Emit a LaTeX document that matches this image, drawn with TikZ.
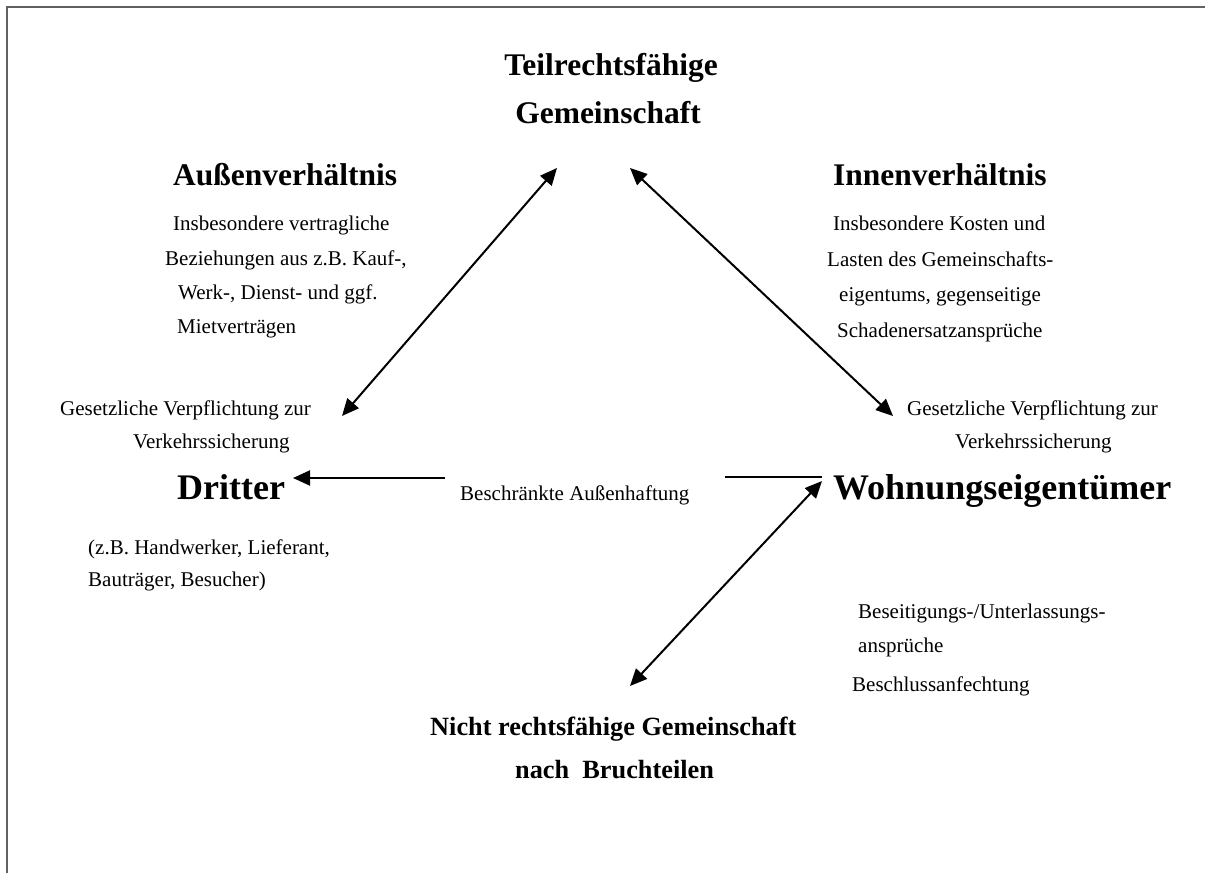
\documentclass[tikz,border=0pt]{standalone}
\usepackage{fontspec}
\setmainfont{Liberation Serif}
\usetikzlibrary{arrows.meta}
\begin{document}
\begin{tikzpicture}[x=1pt,y=-1pt,
  body/.style={inner sep=0pt,anchor=base west,font=\fontsize{21}{25}\selectfont},
  head/.style={inner sep=0pt,anchor=base west,font=\fontsize{31.5}{36}\selectfont\bfseries},
  party/.style={inner sep=0pt,anchor=base west,font=\fontsize{36}{40}\selectfont\bfseries},
  sub/.style={inner sep=0pt,anchor=base west,font=\fontsize{26.3}{30}\selectfont\bfseries},
  frame/.style={draw=black!62,line width=2pt},
  tip/.tip={Triangle[length=17pt,width=15pt]},
  dbl/.style={line width=2pt,tip-tip},
  sgl/.style={line width=2pt,-tip},
  plain/.style={line width=2pt}]
\useasboundingbox (0,0) rectangle (1205,873);
% frame (top and left only)
\coordinate (fTR) at (1205,6.5);
\coordinate (fTL) at (6.5,6.5);
\coordinate (fBL) at (6.5,873);
\draw[frame] (fTR) -- (fTL) -- (fBL);

% top
\node[inner sep=0pt,anchor=base,font=\fontsize{31.5}{36}\selectfont\bfseries] (t1) at (611,75) {Teilrechtsfähige};
\node[inner sep=0pt,anchor=base,font=\fontsize{31.5}{36}\selectfont\bfseries] (t2) at (608,123) {Gemeinschaft};

% left upper
\node[head] (aussen) at (173,185) {Außenverhältnis};
\node[body] (a1) at (173,230) {Insbesondere vertragliche};
\node[body] (a2) at (165,265) {Beziehungen aus z.B. Kauf-,};
\node[body] (a3) at (178,299) {Werk-, Dienst- und ggf.};
\node[body] (a4) at (177,333) {Mietverträgen};

% right upper
\node[head] (innen) at (833,185) {Innenverhältnis};
\node[body] (i1) at (833,230) {Insbesondere Kosten und};
\node[body] (i2) at (827,266) {Lasten des Gemeinschafts-};
\node[body] (i3) at (839,301) {eigentums, gegenseitige};
\node[body] (i4) at (837,337) {Schadenersatzansprüche};

% left middle
\node[body] (gl1) at (60,415) {Gesetzliche Verpflichtung zur};
\node[body] (gl2) at (133,448) {Verkehrssicherung};
\node[party] (dritter) at (177,499) {Dritter};
\node[body] (d1) at (88,554) {(z.B. Handwerker, Lieferant,};
\node[body] (d2) at (88,586) {Bauträger, Besucher)};

% middle
\node[body] (haft) at (460,500) {Beschränkte Außenhaftung};

% right middle
\node[body] (gr1) at (907,415) {Gesetzliche Verpflichtung zur};
\node[body] (gr2) at (955,448) {Verkehrssicherung};
\node[party] (wohn) at (833,499) {Wohnungseigentümer};
\node[body] (w1) at (858,618) {Beseitigungs-/Unterlassungs-};
\node[body] (w2) at (858,652) {ansprüche};
\node[body] (w3) at (852,691) {Beschlussanfechtung};

% bottom
\node[sub] (n1) at (430,735) {Nicht rechtsfähige Gemeinschaft};
\node[sub] (n2) at (515,778) {nach\ \ Bruchteilen};

% connector end points
\coordinate (gL) at (557,168);
\coordinate (gR) at (630,168);
\coordinate (dT) at (342,416);
\coordinate (wT) at (893,416);
\coordinate (wB) at (822,481);
\coordinate (nT) at (630,686);
\coordinate (hL1) at (445,478);
\coordinate (hL2) at (293,478);
\coordinate (hR1) at (725,477);
\coordinate (hR2) at (822,477);

\draw[dbl] (gL) -- (dT);
\draw[dbl] (gR) -- (wT);
\draw[dbl] (wB) -- (nT);
\draw[sgl] (hL1) -- (hL2);
\draw[plain] (hR1) -- (hR2);
\end{tikzpicture}
\end{document}
